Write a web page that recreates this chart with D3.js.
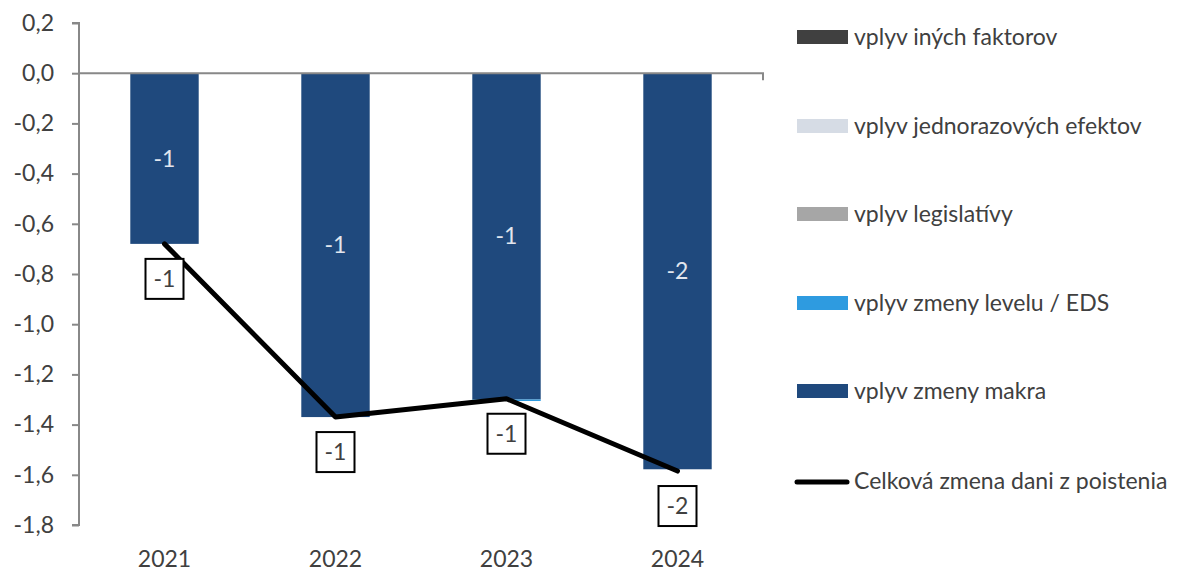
<!DOCTYPE html>
<html><head><meta charset="utf-8">
<script src="https://cdn.jsdelivr.net/npm/d3@7"></script>
<style>
body{margin:0;background:#fff;}
text{font-family:Lato,"Open Sans",sans-serif;}
</style></head>
<body><svg id="c" width="1194" height="572"></svg>
<script>
const years = ["2021","2022","2023","2024"];
const seriesNames = ["vplyv zmeny makra","vplyv zmeny levelu / EDS","vplyv legislatívy","vplyv jednorazových efektov","vplyv iných faktorov"];
const makra = [-0.68,-1.37,-1.300,-1.578];
const eds = [0,0,-0.006,0];
const legislativa = [0,0,0,0];
const jednorazove = [0,0,0,0];
const ine = [0,0,0,0];
const celkova = [-0.68,-1.37,-1.297,-1.585];
const lineName = "Celková zmena dani z poistenia";
const yTicks = [0.2,0,-0.2,-0.4,-0.6,-0.8,-1.0,-1.2,-1.4,-1.6,-1.8];
const colors = ["#1f497d","#2e9be0","#a6a6a6","#d6dce5","#404040"];
const legendOrder = [4,3,2,1,0];

const svg = d3.select("#c");
const x = d3.scaleBand().domain(years).range([79,763]).padding(0);
const y = d3.scaleLinear().domain([-1.8,0.2]).range([525,23]);
const txt = "#404040";
const fs = "23px";

const rows = years.map((yr,i)=>({year:yr,"vplyv zmeny makra":makra[i],"vplyv zmeny levelu / EDS":eds[i],"vplyv legislatívy":legislativa[i],"vplyv jednorazových efektov":jednorazove[i],"vplyv iných faktorov":ine[i]}));
const stack = d3.stack().keys(seriesNames).offset(d3.stackOffsetDiverging)(rows);

// y axis
const yAxis = d3.axisLeft(y).tickValues(yTicks).tickSize(7).tickFormat(d=>d3.format(".1f")(d).replace(".",",").replace("−","-"));
const ya = svg.append("g").attr("transform","translate(79,0)").call(yAxis);
ya.select(".domain").attr("stroke","#888").attr("stroke-width",2).attr("d","M-7,"+y(0.2)+"H0V"+y(-1.8)+"H-7");
ya.selectAll(".tick line").attr("stroke","#888").attr("stroke-width",2);
ya.selectAll(".tick text").attr("x",-25).attr("fill",txt).style("font-size",fs).style("font-family","Lato");

const bw = x.bandwidth()*0.4;
// bars
stack.forEach((s,si)=>{
  svg.append("g").selectAll("rect").data(s).join("rect")
    .attr("x",d=>x(d.data.year)+(x.bandwidth()-bw)/2)
    .attr("width",bw)
    .attr("y",d=>y(Math.max(d[0],d[1])))
    .attr("height",d=>Math.abs(y(d[0])-y(d[1])))
    .attr("fill",colors[si]);
});

// x axis (zero line)
svg.append("path").attr("d","M79,"+y(0)+"H763V"+(y(0)+7)).attr("stroke","#888").attr("stroke-width",2).attr("fill","none");

// x labels
svg.append("g").selectAll("text").data(years).join("text")
  .attr("x",d=>x(d)+x.bandwidth()/2).attr("y",567).attr("text-anchor","middle")
  .attr("fill",txt).style("font-size",fs).text(d=>d);

// bar labels
svg.append("g").selectAll("text").data(makra.map((v,i)=>({v,i}))).join("text")
  .attr("x",d=>x(years[d.i])+x.bandwidth()/2)
  .attr("y",d=>(y(0)+y(d.v))/2+8)
  .attr("text-anchor","middle").attr("fill","#e2e6ee").style("font-size",fs)
  .text(d=>d3.format(".0f")(d.v).replace("−","-"));

// line
const line = d3.line().x((d,i)=>x(years[i])+x.bandwidth()/2).y(d=>y(d));
svg.append("path").datum(celkova).attr("d",line).attr("fill","none").attr("stroke","#000").attr("stroke-width",5).attr("stroke-linecap","round").attr("stroke-linejoin","round");

// line labels
const lg = svg.append("g").selectAll("g").data(celkova.map((v,i)=>({v,i}))).join("g")
  .attr("transform",d=>`translate(${x(years[d.i])+x.bandwidth()/2},${y(d.v)+35})`);
lg.append("rect").attr("x",-19).attr("y",-20).attr("width",38).attr("height",40).attr("fill","#fff").attr("stroke","#000").attr("stroke-width",2);
lg.append("text").attr("y",8).attr("text-anchor","middle").attr("fill",txt).style("font-size",fs).text(d=>d3.format(".0f")(d.v).replace("−","-"));

// legend
const legY = [45,134,222,311,399];
legendOrder.forEach((si,k)=>{
  svg.append("rect").attr("x",797).attr("y",legY[k]-15).attr("width",51).attr("height",14).attr("fill",colors[si]);
  svg.append("text").attr("x",854).attr("y",legY[k]).attr("fill",txt).style("font-size",fs).text(seriesNames[si]);
});
svg.append("line").attr("x1",797).attr("x2",847).attr("y1",482).attr("y2",482).attr("stroke","#000").attr("stroke-width",5).attr("stroke-linecap","round");
svg.append("text").attr("x",854).attr("y",489).attr("fill",txt).style("font-size",fs).text(lineName);
</script></body></html>
